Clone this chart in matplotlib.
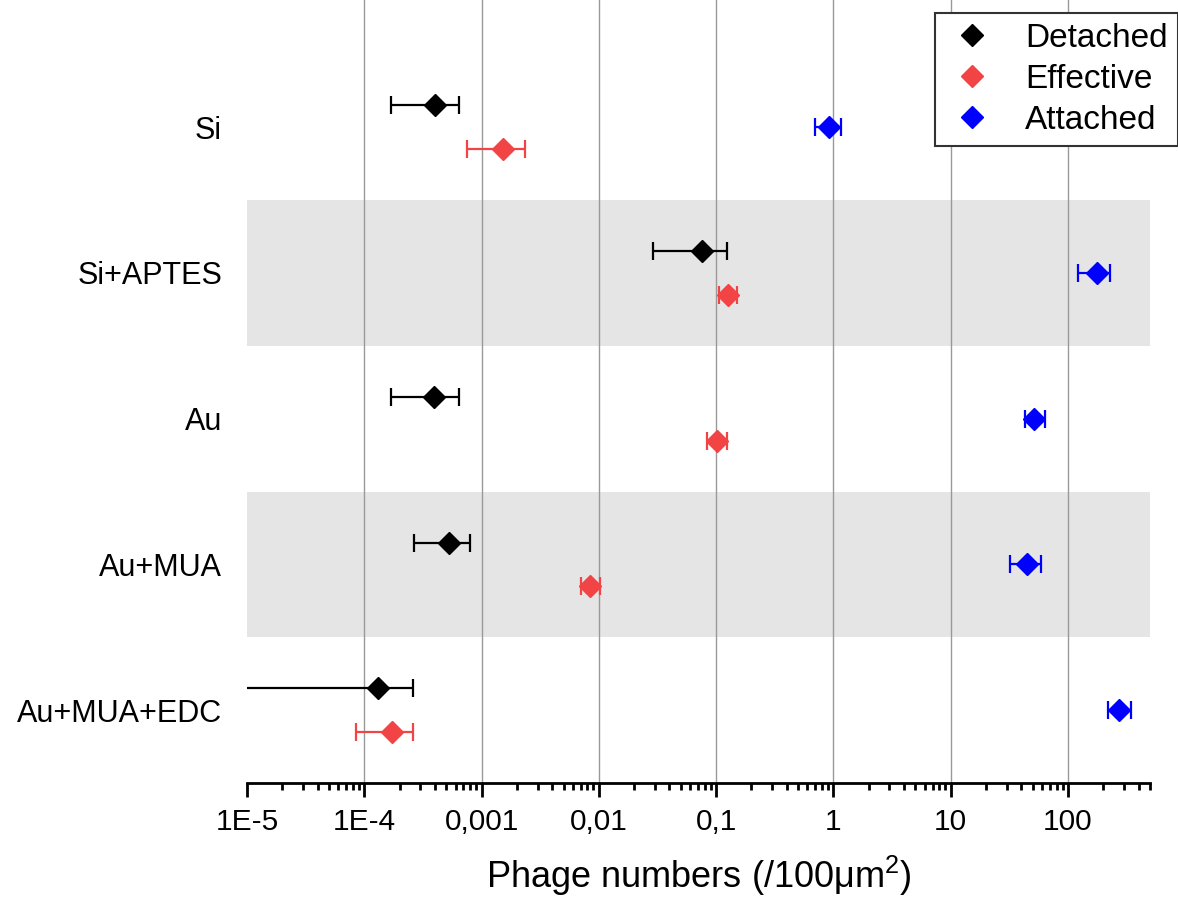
import numpy as np
import matplotlib
matplotlib.use('Agg')
import matplotlib.pyplot as plt
from matplotlib.ticker import FixedLocator, LogLocator, NullFormatter

plt.rcParams['font.family'] = ['Liberation Sans', 'DejaVu Sans']
plt.rcParams['mathtext.fontset'] = 'custom'
plt.rcParams['mathtext.rm'] = 'Liberation Sans'
plt.rcParams['mathtext.it'] = 'Liberation Sans'

# Datos
superficies = ['Si', 'Si+APTES', 'Au', 'Au+MUA', 'Au+MUA+EDC']

detached = [3.97e-4, 0.0751, 3.95e-4, 5.30e-4, 1.32e-4]
detached_low = [1.70e-4, 0.0287, 1.68e-4, 2.65e-4, 1e-6]
detached_high = [6.37e-4, 0.123, 6.37e-4, 7.96e-4, 2.62e-4]

effective = [1.53e-3, 0.125, 0.1014, 8.43e-3, 1.73e-4]
effective_low = [7.53e-4, 0.105, 0.084, 7.06e-3, 8.5e-5]
effective_high = [2.34e-3, 0.150, 0.123, 0.0103, 2.62e-4]

attached = [0.924, 177, 51.3, 45.1, 274]
attached_low = [0.70, 122, 42.8, 32.3, 221]
attached_high = [1.15, 228, 63.3, 58.5, 344]

xticks = [1e-5, 1e-4, 1e-3, 1e-2, 1e-1, 1, 10, 100]
xtick_labels = ['1E-5', '1E-4', '0,001', '0,01', '0,1', '1', '10', '100']

fig = plt.figure(figsize=(11.78, 8.98), dpi=100)
ax = fig.add_axes([247 / 1178, 1 - 783 / 898, (1150 - 247) / 1178, 783 / 898])

y = np.arange(len(superficies))
off = 0.15

# Bandas grises
for i in [1, 3]:
    ax.axhspan(i - 0.5, i + 0.5, color='#E5E5E5', zorder=0, lw=0)

# Lineas verticales
for t in xticks[1:]:
    ax.axvline(t, color='#999999', lw=1.0, zorder=0.5)

series = [
    ('Detached', detached, detached_low, detached_high, y - off, 'black'),
    ('Effective', effective, effective_low, effective_high, y + off, '#F24444'),
    ('Attached', attached, attached_low, attached_high, y, '#0000FF'),
]
for nombre, v, lo, hi, yy, c in series:
    v = np.array(v)
    err = [v - np.array(lo), np.array(hi) - v]
    ax.errorbar(v, yy, xerr=err, fmt='D', color=c, ms=11, elinewidth=1.6,
                capsize=6.5, capthick=1.6, label=nombre, zorder=3)

ax.set_xscale('log')
ax.set_xlim(1e-5, 500)
ax.set_ylim(4.5, -0.873)

ax.xaxis.set_major_locator(FixedLocator(xticks))
ax.set_xticklabels(xtick_labels, fontsize=21.5)
ax.xaxis.set_minor_locator(LogLocator(base=10, subs=np.arange(2, 10), numticks=20))
ax.xaxis.set_minor_formatter(NullFormatter())
ax.tick_params(axis='x', which='major', direction='out', length=10, width=2, pad=8)
ax.tick_params(axis='x', which='minor', direction='out', length=5, width=2)

ax.set_yticks(y)
ax.set_yticklabels(superficies, fontsize=22)
ax.tick_params(axis='y', length=0, pad=18)

for s in ['top', 'right', 'left']:
    ax.spines[s].set_visible(False)
ax.spines['bottom'].set_linewidth(2)

ax.set_xlabel('Phage numbers (/100μm$^2$)', fontsize=26, labelpad=13)

handles, labels = ax.get_legend_handles_labels()
handles = [h[0] for h in handles]
leg = fig.legend(handles, labels, loc='upper right', bbox_to_anchor=(1.0, 0.986),
                 fontsize=24, frameon=True, fancybox=False, edgecolor='#333333',
                 handletextpad=0.8, handlelength=1.6, labelspacing=0.3,
                 borderpad=0.3, borderaxespad=0.0, framealpha=1)
leg.get_frame().set_linewidth(1.5)

fig.savefig('out.png', dpi=100)
